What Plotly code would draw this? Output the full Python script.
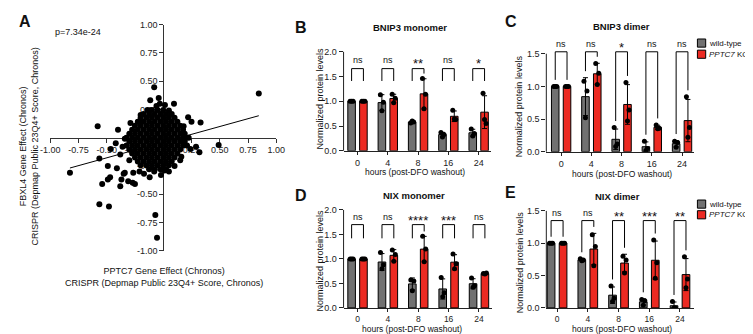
import numpy as np
import plotly.graph_objects as go

W, H = 753, 334
FONT = "Liberation Sans, Arial, Helvetica, sans-serif"
INK = "#222222"
GRAY = "#717171"
RED = "#ec2a22"

# ---------------- Panel A data ----------------
blob_row_y = [0.245, 0.21, 0.175, 0.14, 0.105, 0.07, 0.035, 0.0, -0.035, -0.07, -0.105, -0.14,
              -0.175, -0.21, -0.245, -0.28]
blob_row_x = [
    [-0.10, -0.05, 0.00],
    [-0.175, -0.125, -0.075, -0.025, 0.025, 0.075],
    [-0.20, -0.15, -0.10, -0.05, 0.00, 0.05, 0.10],
    [-0.225, -0.175, -0.125, -0.075, -0.025, 0.025, 0.075, 0.125],
    [-0.25, -0.20, -0.15, -0.10, -0.05, 0.00, 0.05, 0.10, 0.15],
    [-0.275, -0.225, -0.175, -0.125, -0.075, -0.025, 0.025, 0.075, 0.125, 0.175],
    [-0.30, -0.25, -0.20, -0.15, -0.10, -0.05, 0.00, 0.05, 0.10, 0.15, 0.19],
    [-0.325, -0.275, -0.225, -0.175, -0.125, -0.075, -0.025, 0.025, 0.075, 0.125, 0.175, 0.20],
    [-0.30, -0.25, -0.20, -0.15, -0.10, -0.05, 0.00, 0.05, 0.10, 0.15, 0.19],
    [-0.325, -0.275, -0.225, -0.175, -0.125, -0.075, -0.025, 0.025, 0.075, 0.125, 0.175],
    [-0.30, -0.25, -0.20, -0.15, -0.10, -0.05, 0.00, 0.05, 0.10, 0.15],
    [-0.275, -0.225, -0.175, -0.125, -0.075, -0.025, 0.025, 0.075, 0.125],
    [-0.25, -0.20, -0.15, -0.10, -0.05, 0.00, 0.05, 0.10],
    [-0.225, -0.175, -0.125, -0.075, -0.025, 0.025, 0.075],
    [-0.20, -0.15, -0.10, -0.05, 0.00, 0.05],
    [-0.125, -0.075, -0.025, 0.025],
]
outlier_x = [-0.08, -0.115, -0.03, 0.095, 0.015, -0.06, 0.22, 0.25, 0.33, 0.845, 0.49, 0.32, 0.29, 0.24,
             0.225, 0.21, -0.07, -0.055, -0.25, -0.58, -0.825, -0.565, -0.49, -0.41, -0.47, -0.54, -0.38,
             -0.27, -0.35, -0.465, -0.40, -0.34, -0.36, -0.29, -0.22, -0.14, -0.565, -0.48, -0.49, -0.37,
             -0.34, -0.31, -0.265, -0.21, -0.17, -0.08, 0.01, -0.12, 0.05, 0.10, 0.15, -0.30, -0.38, -0.42,
             0.18, 0.16, -0.02, -0.20, 0.05, -0.04]
outlier_y = [0.445, 0.33, 0.30, 0.30, 0.29, 0.28, 0.18, 0.14, 0.135, 0.39, -0.065, -0.13, -0.08, -0.10,
             0.00, -0.07, -0.685, -0.885, -0.41, 0.10, -0.31, -0.185, -0.25, -0.27, -0.35, -0.41, -0.43,
             -0.40, -0.32, -0.10, 0.07, -0.01, -0.08, 0.13, 0.14, 0.245, -0.59, -0.61, -0.37, -0.37,
             -0.31, -0.385, -0.31, -0.30, -0.32, -0.30, -0.29, -0.35, -0.30, -0.25, -0.20, -0.20, -0.15, -0.05,
             0.10, -0.17, -0.33, 0.20, 0.24, 0.35]
fit_slope = 0.277
fit_intercept = -0.04
p_label = "p=7.34e-24"
scatter_ticks = [-1.0, -0.75, -0.5, -0.25, 0.25, 0.5, 0.75, 1.0]

# ---------------- Bar panel data (3 replicates each) ----------------
categories = ["0", "4", "8", "16", "24"]

bnip3_mono_wt = [[1, 1, 1], [1.13, 0.98, 0.81], [0.56, 0.58, 0.60], [0.37, 0.33, 0.28], [0.44, 0.35, 0.30]]
bnip3_mono_ko = [[1, 1, 1], [1.14, 1.06, 0.97], [1.46, 1.14, 0.85], [0.82, 0.63, 0.64], [1.16, 0.55, 0.63]]
bnip3_mono_sig = ["ns", "ns", "**", "ns", "*"]

bnip3_dim_wt = [[1, 1, 1], [1.08, 0.93, 0.52], [0.37, 0.12, 0.08], [0.16, 0.05, 0.02], [0.16, 0.14, 0.07]]
bnip3_dim_ko = [[1, 1, 1], [1.35, 1.20, 1.03], [1.06, 0.64, 0.47], [0.41, 0.36, 0.35], [0.84, 0.37, 0.22]]
bnip3_dim_sig = ["ns", "ns", "*", "ns", "ns"]

nix_mono_wt = [[1, 1, 1], [1.13, 0.88, 0.80], [0.57, 0.55, 0.35], [0.62, 0.31, 0.23], [0.61, 0.45, 0.42]]
nix_mono_ko = [[1, 1, 1], [1.18, 1.09, 0.95], [1.46, 1.20, 0.94], [1.10, 0.90, 0.80], [0.70, 0.71, 0.69]]
nix_mono_sig = ["ns", "ns", "****", "***", "ns"]

nix_dim_wt = [[1, 1, 1], [0.76, 0.74, 0.73], [0.34, 0.15, 0.10], [0.13, 0.11, 0.04], [0.10, 0.0, 0.0]]
nix_dim_ko = [[1, 1, 1], [1.13, 0.95, 0.65], [0.80, 0.74, 0.54], [1.05, 0.70, 0.46], [0.79, 0.445, 0.31]]
nix_dim_sig = ["ns", "ns", "**", "***", "**"]

group_names = ["wild-type", "<i>PPTC7</i> KO"]

# ---------------- helpers ----------------
def px(x):
    return x / W

def py(y):
    return 1 - y / H

fig = go.Figure()
annotations = []
shapes = []

def text(xp, yp, s, size=9, bold=False, angle=0, xanchor="center", yanchor="middle", yshift=0):
    if bold:
        s = "<b>" + s + "</b>"
    annotations.append(dict(x=px(xp), y=py(yp), xref="paper", yref="paper", text=s, showarrow=False,
                            font=dict(family=FONT, size=size, color="#111"), textangle=angle,
                            xanchor=xanchor, yanchor=yanchor, yshift=yshift, borderpad=0))

# ---------------- Panel A ----------------
sx = [x for row in blob_row_x for x in row] + outlier_x
sy = [y for y, row in zip(blob_row_y, blob_row_x) for _ in row] + outlier_y
fig.add_trace(go.Scatter(x=sx, y=sy, mode="markers", xaxis="x", yaxis="y",
                         marker=dict(color="black", size=6, line=dict(width=0)), hoverinfo="skip"))
lx = np.array([min(sx), max(sx)])
fig.add_trace(go.Scatter(x=lx, y=fit_intercept + fit_slope * lx, mode="lines", xaxis="x", yaxis="y",
                         line=dict(color="black", width=1)))

axA = dict(showgrid=False, zeroline=False, showline=True, linecolor="#333", linewidth=1,
           ticks="outside", ticklen=4, tickcolor="#333", layer="below traces",
           tickvals=scatter_ticks, ticktext=[f"{v:.2f}" for v in scatter_ticks],
           tickfont=dict(family=FONT, size=9, color="#222"), range=[-1, 1])
fig.update_layout(
    xaxis=dict(axA, domain=[px(33), px(265)], anchor="free", position=py(128.5)),
    yaxis=dict(axA, domain=[py(245), py(12)], anchor="free", position=px(149)),
)
text(7, 9, "A", size=16, bold=True)
text(37, 20, p_label, size=9, xanchor="left")
text(11, 138, "FBXL4 Gene Effect (Chronos)<br>CRISPR (Depmap Public 23Q4+ Score, Chronos)", size=9, angle=-90)
text(150, 272, "PPTC7 Gene Effect (Chronos)<br>CRISPR (Depmap Public 23Q4+ Score, Chronos)", size=9)

# ---------------- Bar panels ----------------
panels = [
    dict(k=2, letter="B", title="BNIP3 monomer", wt=bnip3_mono_wt, ko=bnip3_mono_ko, sig=bnip3_mono_sig,
         x0=334, x1=485, xr=(-0.46, 4.40), bot=142, axis_top=40, dom_top=40, ymax=2.0,
         br_top=1.66, lab_y=1.84, leg_max=0.25, gap=0.1, xfont=9,
         letter_xy=(290, 15), title_xy=(402, 15), ytitle_xy=(310, 88), xtitle_xy=(407, 164), legend=None),
    dict(k=3, letter="C", title="BNIP3 dimer", wt=bnip3_dim_wt, ko=bnip3_dim_ko, sig=bnip3_dim_sig,
         x0=542, x1=693, xr=(-0.49, 4.38), bot=143, axis_top=42, dom_top=26, ymax=1.5,
         br_top=1.53, lab_y=1.65, leg_max=9, gap=0.1, xfont=9,
         letter_xy=(506, 9), title_xy=(619, 14), ytitle_xy=(514, 96), xtitle_xy=(620, 166), legend=(31, 42.5)),
    dict(k=4, letter="D", title="NIX monomer", wt=nix_mono_wt, ko=nix_mono_ko, sig=nix_mono_sig,
         x0=334, x1=486, xr=(-0.46, 4.42), bot=304, axis_top=203, dom_top=203, ymax=2.0,
         br_top=1.70, lab_y=1.86, leg_max=0.28, gap=0.1, xfont=8.5,
         letter_xy=(290, 188), title_xy=(406, 188), ytitle_xy=(310, 255), xtitle_xy=(404, 325.5), legend=None),
    dict(k=5, letter="E", title="NIX dimer", wt=nix_dim_wt, ko=nix_dim_ko, sig=nix_dim_sig,
         x0=542, x1=693, xr=(-0.35, 4.44), bot=304, axis_top=204, dom_top=204, ymax=1.5,
         br_top=1.35, lab_y=1.47, leg_max=9, gap=0.1, xfont=8.5,
         letter_xy=(505, 185), title_xy=(615, 189), ytitle_xy=(515, 257), xtitle_xy=(620, 325.5), legend=(197, 208)),
]

BAR_W = 0.25
CENTER = 0.195
JITTER = [-0.05, 0.05, 0.0]
idx = np.arange(len(categories))

for p in panels:
    k = p["k"]
    xa, ya = f"x{k}", f"y{k}"
    tops = []
    for gi, (vals, color, sign) in enumerate([(p["wt"], GRAY, -1), (p["ko"], RED, 1)]):
        arr = np.array(vals, dtype=float)
        mean = arr.mean(axis=1)
        sd = arr.std(axis=1, ddof=1)
        fig.add_trace(go.Bar(x=idx, y=mean, width=BAR_W, offset=sign * CENTER - BAR_W / 2,
                             xaxis=xa, yaxis=ya, name=group_names[gi],
                             marker=dict(color=color, line=dict(color="black", width=1)),
                             error_y=dict(type="data", array=sd, color="black", thickness=1, width=2.5)))
        ptx, pty = [], []
        for i in idx:
            for r, v in enumerate(arr[i]):
                ptx.append(i + sign * CENTER + JITTER[r])
                pty.append(v)
        fig.add_trace(go.Scatter(x=ptx, y=pty, mode="markers", xaxis=xa, yaxis=ya,
                                 marker=dict(color="black", size=5, line=dict(width=0))))
        tops.append(np.maximum(arr.max(axis=1), mean + sd))
    # significance brackets
    bx, by = [], []
    for i in idx:
        lb_l = max(p["br_top"] - p["leg_max"], tops[0][i] + p["gap"])
        lb_r = max(p["br_top"] - p["leg_max"], tops[1][i] + p["gap"])
        bx += [i - CENTER, i - CENTER, i + CENTER, i + CENTER, None]
        by += [lb_l, p["br_top"], p["br_top"], lb_r, None]
        s = p["sig"][i]
        star = s != "ns"
        annotations.append(dict(x=i, y=p["lab_y"], xref=xa, yref=ya, text=s, showarrow=False,
                                font=dict(family=FONT, size=13 if star else 9, color="#111"),
                                xanchor="center", yanchor="middle", yshift=-4 if star else 0))
    fig.add_trace(go.Scatter(x=bx, y=by, mode="lines", xaxis=xa, yaxis=ya,
                             line=dict(color="black", width=1)))

    yr_top = p["ymax"] * (p["bot"] - p["dom_top"]) / (p["bot"] - p["axis_top"])
    yt = list(np.arange(0, p["ymax"] + 0.001, 0.5))
    fig.layout[f"xaxis{k}"] = dict(domain=[px(p["x0"]), px(p["x1"])], range=list(p["xr"]), anchor=ya,
                                   tickvals=list(idx), ticktext=categories, ticks="outside", ticklen=3,
                                   tickcolor=INK, showline=True, linecolor=INK, linewidth=1,
                                   showgrid=False, zeroline=False,
                                   tickfont=dict(family=FONT, size=p["xfont"], color="#222"))
    fig.layout[f"yaxis{k}"] = dict(domain=[py(p["bot"]), py(p["dom_top"])], range=[0, yr_top], anchor=xa,
                                   tickvals=yt, ticktext=[f"{v:.1f}" for v in yt], ticks="outside",
                                   ticklen=4, tickcolor=INK, showline=False, showgrid=False,
                                   zeroline=False, tickfont=dict(family=FONT, size=9, color="#222"))
    # y axis line only up to the last tick
    shapes.append(dict(type="line", xref="paper", yref="paper", x0=px(p["x0"]), x1=px(p["x0"]),
                       y0=py(p["bot"]), y1=py(p["axis_top"]), line=dict(color=INK, width=1)))

    text(*p["letter_xy"], p["letter"], size=16, bold=True)
    text(*p["title_xy"], p["title"], size=9.5, bold=True)
    text(*p["ytitle_xy"], "Normalized protein levels", size=9, angle=-90)
    text(*p["xtitle_xy"], "hours (post-DFO washout)", size=8.5)

    if p["legend"]:
        for (yc, color, name) in zip(p["legend"], [GRAY, RED], group_names):
            shapes.append(dict(type="rect", xref="paper", yref="paper", x0=px(697), x1=px(705.5),
                               y0=py(yc + 4.2), y1=py(yc - 4.2), fillcolor=color,
                               line=dict(color="black", width=1)))
            text(708, yc, name, size=8, xanchor="left")

fig.update_layout(width=W, height=H, margin=dict(l=0, r=0, t=0, b=0), showlegend=False,
                  barmode="overlay", paper_bgcolor="white", plot_bgcolor="white",
                  annotations=annotations, shapes=shapes, font=dict(family=FONT))
fig.write_html("out.html")
